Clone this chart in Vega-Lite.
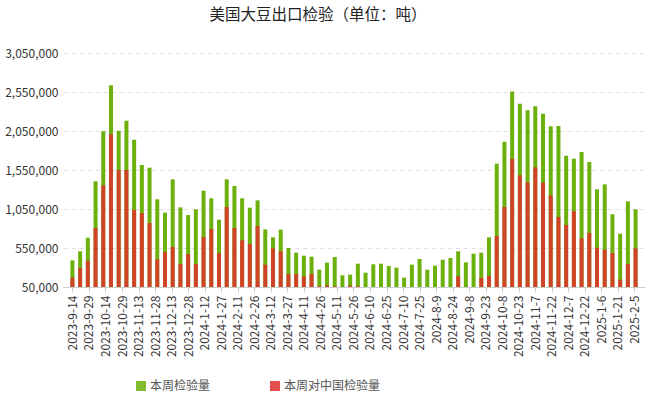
{
  "$schema": "https://vega.github.io/schema/vega-lite/v6.json",
  "width": 582,
  "height": 234,
  "autosize": {"type": "none"},
  "padding": {"left": 63, "top": 53, "right": 5, "bottom": 110},
  "background": "white",
  "config": {"view": {"stroke": null}, "font": "Noto Sans CJK SC"},
  "title": {"text": "美国大豆出口检验（单位：吨）", "fontSize": 15.5, "fontWeight": "normal", "color": "#222", "anchor": "middle", "dx": -36, "offset": 24},
  "data": {"values": [
    {"date": "2023-09-14", "total": 392000, "china": 170000},
    {"date": "2023-09-21", "total": 507000, "china": 294000},
    {"date": "2023-09-28", "total": 682000, "china": 388000},
    {"date": "2023-10-05", "total": 1405000, "china": 806000},
    {"date": "2023-10-12", "total": 2046000, "china": 1353000},
    {"date": "2023-10-19", "total": 2635000, "china": 2007000},
    {"date": "2023-10-26", "total": 2054000, "china": 1550000},
    {"date": "2023-11-02", "total": 2182000, "china": 1550000},
    {"date": "2023-11-09", "total": 1939000, "china": 1037000},
    {"date": "2023-11-16", "total": 1614000, "china": 999000},
    {"date": "2023-11-23", "total": 1580000, "china": 870000},
    {"date": "2023-11-30", "total": 1174000, "china": 405000},
    {"date": "2023-12-07", "total": 1003000, "china": 499000},
    {"date": "2023-12-14", "total": 1430000, "china": 563000},
    {"date": "2023-12-21", "total": 1071000, "china": 345000},
    {"date": "2023-12-28", "total": 973000, "china": 473000},
    {"date": "2024-01-04", "total": 1046000, "china": 345000},
    {"date": "2024-01-11", "total": 1285000, "china": 691000},
    {"date": "2024-01-18", "total": 1187000, "china": 794000},
    {"date": "2024-01-25", "total": 913000, "china": 486000},
    {"date": "2024-02-01", "total": 1430000, "china": 1076000},
    {"date": "2024-02-08", "total": 1345000, "china": 806000},
    {"date": "2024-02-15", "total": 1187000, "china": 648000},
    {"date": "2024-02-22", "total": 1067000, "china": 601000},
    {"date": "2024-02-29", "total": 1161000, "china": 832000},
    {"date": "2024-03-07", "total": 789000, "china": 336000},
    {"date": "2024-03-14", "total": 687000, "china": 545000},
    {"date": "2024-03-21", "total": 785000, "china": 507000},
    {"date": "2024-03-28", "total": 550000, "china": 217000},
    {"date": "2024-04-04", "total": 490000, "china": 217000},
    {"date": "2024-04-11", "total": 452000, "china": 187000},
    {"date": "2024-04-18", "total": 439000, "china": 217000},
    {"date": "2024-04-25", "total": 272000, "china": 59000},
    {"date": "2024-05-02", "total": 362000, "china": 71000},
    {"date": "2024-05-09", "total": 435000, "china": 59000},
    {"date": "2024-05-16", "total": 200000, "china": 0},
    {"date": "2024-05-23", "total": 208000, "china": 67000},
    {"date": "2024-05-30", "total": 349000, "china": 59000},
    {"date": "2024-06-06", "total": 234000, "china": 0},
    {"date": "2024-06-13", "total": 341000, "china": 0},
    {"date": "2024-06-20", "total": 349000, "china": 0},
    {"date": "2024-06-27", "total": 319000, "china": 0},
    {"date": "2024-07-04", "total": 298000, "china": 0},
    {"date": "2024-07-11", "total": 170000, "china": 0},
    {"date": "2024-07-18", "total": 337000, "china": 0},
    {"date": "2024-07-25", "total": 409000, "china": 0},
    {"date": "2024-08-01", "total": 272000, "china": 0},
    {"date": "2024-08-08", "total": 324000, "china": 0},
    {"date": "2024-08-15", "total": 400000, "china": 0},
    {"date": "2024-08-22", "total": 422000, "china": 0},
    {"date": "2024-08-29", "total": 507000, "china": 187000},
    {"date": "2024-09-05", "total": 366000, "china": 0},
    {"date": "2024-09-12", "total": 477000, "china": 0},
    {"date": "2024-09-19", "total": 490000, "china": 165000},
    {"date": "2024-09-26", "total": 687000, "china": 191000},
    {"date": "2024-10-03", "total": 1631000, "china": 704000},
    {"date": "2024-10-10", "total": 1913000, "china": 1076000},
    {"date": "2024-10-17", "total": 2558000, "china": 1691000},
    {"date": "2024-10-24", "total": 2400000, "china": 1482000},
    {"date": "2024-10-31", "total": 2315000, "china": 1392000},
    {"date": "2024-11-07", "total": 2366000, "china": 1584000},
    {"date": "2024-11-14", "total": 2272000, "china": 1388000},
    {"date": "2024-11-21", "total": 2110000, "china": 1225000},
    {"date": "2024-11-28", "total": 2114000, "china": 947000},
    {"date": "2024-12-05", "total": 1734000, "china": 845000},
    {"date": "2024-12-12", "total": 1695000, "china": 1020000},
    {"date": "2024-12-19", "total": 1781000, "china": 674000},
    {"date": "2024-12-26", "total": 1653000, "china": 743000},
    {"date": "2025-01-02", "total": 1302000, "china": 554000},
    {"date": "2025-01-09", "total": 1366000, "china": 529000},
    {"date": "2025-01-16", "total": 982000, "china": 486000},
    {"date": "2025-01-23", "total": 734000, "china": 144000},
    {"date": "2025-01-30", "total": 1148000, "china": 345000},
    {"date": "2025-02-06", "total": 1046000, "china": 546000}
  ]},
  "encoding": {
    "x": {
      "field": "date",
      "type": "temporal",
      "title": null,
      "scale": {"type": "utc", "domain": [{"year": 2023, "month": 9, "date": 10, "utc": true}, {"year": 2025, "month": 2, "date": 10, "utc": true}]},
      "axis": {
        "values": [
          {"year": 2023, "month": 9, "date": 14, "utc": true},
          {"year": 2023, "month": 9, "date": 29, "utc": true},
          {"year": 2023, "month": 10, "date": 14, "utc": true},
          {"year": 2023, "month": 10, "date": 29, "utc": true},
          {"year": 2023, "month": 11, "date": 13, "utc": true},
          {"year": 2023, "month": 11, "date": 28, "utc": true},
          {"year": 2023, "month": 12, "date": 13, "utc": true},
          {"year": 2023, "month": 12, "date": 28, "utc": true},
          {"year": 2024, "month": 1, "date": 12, "utc": true},
          {"year": 2024, "month": 1, "date": 27, "utc": true},
          {"year": 2024, "month": 2, "date": 11, "utc": true},
          {"year": 2024, "month": 2, "date": 26, "utc": true},
          {"year": 2024, "month": 3, "date": 12, "utc": true},
          {"year": 2024, "month": 3, "date": 27, "utc": true},
          {"year": 2024, "month": 4, "date": 11, "utc": true},
          {"year": 2024, "month": 4, "date": 26, "utc": true},
          {"year": 2024, "month": 5, "date": 11, "utc": true},
          {"year": 2024, "month": 5, "date": 26, "utc": true},
          {"year": 2024, "month": 6, "date": 10, "utc": true},
          {"year": 2024, "month": 6, "date": 25, "utc": true},
          {"year": 2024, "month": 7, "date": 10, "utc": true},
          {"year": 2024, "month": 7, "date": 25, "utc": true},
          {"year": 2024, "month": 8, "date": 9, "utc": true},
          {"year": 2024, "month": 8, "date": 24, "utc": true},
          {"year": 2024, "month": 9, "date": 8, "utc": true},
          {"year": 2024, "month": 9, "date": 23, "utc": true},
          {"year": 2024, "month": 10, "date": 8, "utc": true},
          {"year": 2024, "month": 10, "date": 23, "utc": true},
          {"year": 2024, "month": 11, "date": 7, "utc": true},
          {"year": 2024, "month": 11, "date": 22, "utc": true},
          {"year": 2024, "month": 12, "date": 7, "utc": true},
          {"year": 2024, "month": 12, "date": 22, "utc": true},
          {"year": 2025, "month": 1, "date": 6, "utc": true},
          {"year": 2025, "month": 1, "date": 21, "utc": true},
          {"year": 2025, "month": 2, "date": 5, "utc": true}
        ],
        "tickCount": 40,
        "labelExpr": "utcFormat(datum.value, '%Y-%-m-%-d')",
        "labelAngle": 270,
        "labelAlign": "right",
        "labelBaseline": "middle",
        "labelFontSize": 12,
        "labelColor": "#333",
        "labelPadding": 3,
        "labelOverlap": false,
        "labelFlush": false,
        "domain": true,
        "domainColor": "#ccc",
        "ticks": true,
        "tickColor": "#ccc",
        "tickSize": 5,
        "grid": false
      }
    }
  },
  "layer": [
    {
      "mark": {"type": "bar", "size": 4, "clip": true},
      "encoding": {
        "y": {
          "field": "total",
          "type": "quantitative",
          "title": null,
          "scale": {"domain": [50000, 3050000], "zero": false, "nice": false},
          "axis": {
            "values": [50000, 550000, 1050000, 1550000, 2050000, 2550000, 3050000],
            "tickCount": 10,
            "labelExpr": "format(datum.value, ',')",
            "labelFontSize": 12,
            "labelColor": "#333",
            "labelPadding": 5,
            "labelOverlap": false,
            "domain": false,
            "ticks": false,
            "grid": true,
            "gridColor": "#dddddd",
            "gridDash": [4, 4]
          }
        },
        "color": {
          "datum": "本周检验量",
          "scale": {"domain": ["本周检验量", "本周对中国检验量"], "range": ["#6cb00b", "#e0302b"]},
          "legend": {
            "title": null,
            "orient": "none",
            "legendX": 72,
            "legendY": 327,
            "direction": "horizontal",
            "symbolType": "square",
            "symbolSize": 100,
            "symbolStrokeWidth": 0,
            "symbolOpacity": 1,
            "labelFontSize": 12,
            "labelColor": "#555",
            "labelOffset": 3,
            "columnPadding": 58
          }
        }
      }
    },
    {
      "mark": {"type": "bar", "size": 4, "clip": true, "opacity": 0.85},
      "encoding": {
        "y": {"field": "china", "type": "quantitative", "title": null},
        "color": {"datum": "本周对中国检验量"}
      }
    }
  ]
}
